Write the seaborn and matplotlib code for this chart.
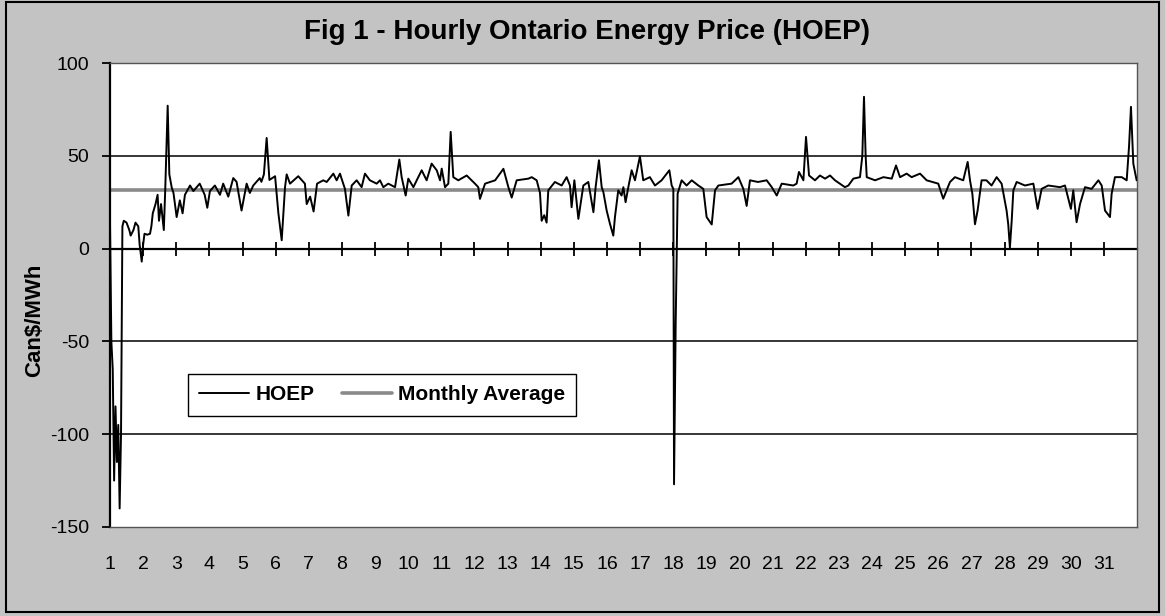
import pandas as pd
import seaborn as sns
import matplotlib.pyplot as plt
from matplotlib.patches import Rectangle

# hour of month (0 = 1st, 00:00) and HOEP price
hours = [
    0, 1, 2, 3, 4, 5, 6, 7, 8, 9, 10, 12, 13, 14, 15, 17, 18.5, 20.5, 21.5, 23,
    24, 25, 27, 29, 30, 31, 33, 34.5, 35.5, 37, 39, 40, 41.8, 43, 44.7, 46,
    48.3, 50.6, 52.6, 54.3, 58, 60.4, 65, 68.6, 70.5, 72.4, 76, 79.7, 82, 85.7,
    89.3, 91.7, 95.3, 99, 101.3, 103.8, 108.5, 109.7, 111.5, 113.5, 115.5, 119.6,
    122, 124.4, 126.8, 128, 130.4, 136.4, 141.2, 142.5, 145, 147.5, 150, 154.5,
    157, 161.8, 164.2, 166.6, 170.2, 172.7, 175.1, 178.7, 182.3, 184.7, 188.3,
    193.2, 195.6, 198, 201.6, 206.5, 209.6, 211.3, 214.2, 216.1, 219.8, 222.2,
    225.8, 229.4, 233, 236.7, 239.1, 240.3, 242.7, 245.1, 246.8, 248.7, 252.3,
    258.4, 264.4, 266.8, 268, 271.7, 279, 285, 288.6, 291, 294.6, 303.1, 305.5,
    309.1, 311.5, 312.7, 314.6, 316.3, 317.5, 322.3, 327.2, 330.8, 333.2, 334.4,
    336.4, 339.3, 342.9, 346.5, 350.2, 351.8, 354.2, 356.2, 357.4, 359.8, 362.2,
    364.6, 365.8, 368.2, 370.6, 371.9, 373.5, 375.5, 377.9, 380.3, 383.9, 386.3,
    391.1, 394.8, 399.6, 405.2, 406.9, 408.1, 408.6, 409.8, 411.2, 414.1, 417.7,
    421.4, 426.2, 429.8, 432.2, 435.9, 438.3, 440.7, 450.3, 455.2, 458.8, 461.2,
    463.6, 469.4, 475.7, 479.4, 483, 486.6, 495, 497.4, 499.1, 502.3, 504.2,
    506.4, 510.7, 514.3, 518, 521.6, 525.2, 532.4, 534.9, 538.5, 543.3, 545,
    546.2, 547.4, 548.2, 554.2, 560.3, 566.3, 569.4, 572.3, 577.1, 580.7, 586.8,
    591.6, 600, 603.6, 608.5, 612.1, 618.1, 621.3, 623, 624.7, 626.6, 628.5,
    631.4, 634.9, 638.6, 642.3, 645.9, 649.5, 650.7, 651.9, 653.2, 654.4, 656.8,
    662.8, 668.9, 672, 674.9, 679.7, 688.2, 691.8, 696.1, 697.8, 700.2, 702.7,
    706.3, 711.1, 716, 718.4, 720.8, 724.4, 725.6, 728, 732.9, 736.5, 738.2,
    739.6, 741.3, 743.7,
]
hoep = [
    15, -50, -65, -125, -85, -115, -95, -140, -100, 12, 15, 14, 12, 10, 7, 10, 14, 12, 2, -7,
    2, 8, 7.5, 8, 12, 19, 24, 29, 15, 24, 10, 31, 77, 40, 33, 30,
    17, 26, 19, 29, 34, 31, 35, 29, 22, 31, 34, 29, 35, 28,
    38, 36, 20.5, 35, 30, 34, 38, 36, 40, 59.6, 37, 39,
    19, 4.5, 33, 40, 35, 39, 35, 24, 28, 20, 35, 36.8,
    35.9, 40.4, 36.8, 40.4, 32.2, 17.8, 34, 36.8, 33.1, 40.4, 36.8,
    35, 36.8, 33.1, 35, 33.1, 48, 38.5, 28.6, 37.7, 33.1, 36.8,
    42.2, 36.8, 45.8, 42.2, 36.8, 43.1, 33.1, 35, 62.9, 38.5, 36.8,
    39.4, 35, 33.1, 26.8, 35, 36.8, 43, 33.1, 27.5, 36.8, 37.7, 38.5,
    36.8, 30, 15, 18, 14, 31.4, 35.9, 34, 38.5, 34, 22.3,
    36.8, 16, 34, 35.9, 19.6, 33.1, 47.6, 33.1, 30.5, 20.5, 13.3,
    7, 17, 31.4, 28.6, 33.1, 25, 33.1, 42.2, 36.8, 49.7, 36.8,
    38.5, 34, 36.8, 42.2, 34, 32.2, -127, -40, 29.6, 36.8, 34,
    36.8, 34, 32.2, 17, 13, 31.4, 34, 35, 38.5, 32.2, 23,
    36.8, 35.9, 36.8, 33.1, 28.6, 35, 34, 35, 41.3, 36.8, 60.2,
    39.4, 36.8, 39.4, 37.7, 39.4, 36.8, 33.1, 34, 37.7, 38.5, 50,
    81.8, 50, 38.5, 36.8, 38.5, 37.7, 44.8, 38.5, 40.4, 38.5, 40.4,
    36.8, 35, 26.9, 35.9, 38.5, 36.8, 46.7, 36.8, 29.6, 13.1, 20.5,
    36.8, 36.8, 34, 38.5, 35, 20.5, 13.1, 0.5, 15, 31.4, 35.9,
    34, 35, 21.4, 32.2, 34, 33.1, 34, 21.4, 31.4, 14.2, 24,
    33.1, 32.2, 36.8, 34, 20.5, 17, 29.6, 38.5, 38.5, 36.8, 55,
    76.4, 45.8, 36.8,
]
monthly_avg = 31.8

day_starts = list(range(0, 744, 24))
day_labels = [str(d) for d in range(1, 32)]
y_ticks = [100, 50, 0, -50, -100, -150]


def main():
    sns.set_style('ticks')
    plt.rcParams['font.family'] = ['Liberation Sans', 'DejaVu Sans']
    plt.rcParams['axes.unicode_minus'] = False
    plt.rcParams['text.color'] = 'black'
    plt.rcParams['axes.labelcolor'] = 'black'
    plt.rcParams['xtick.color'] = 'black'
    plt.rcParams['ytick.color'] = 'black'

    df = pd.DataFrame({'hour': hours, 'HOEP': hoep})

    fig = plt.figure(figsize=(11.65, 6.16), dpi=100, facecolor='#c3c3c3')
    ax = fig.add_axes([0.0944, 0.1445, 0.8816, 0.7532])
    ax.set_facecolor('white')

    sns.lineplot(data=df, x='hour', y='HOEP', ax=ax, color='black',
                 linewidth=1.4, label='HOEP', zorder=3)
    ax.axhline(monthly_avg, color='#8a8a8a', linewidth=2.6,
               label='Monthly Average', zorder=2)

    ax.set_xlim(0, 744)
    ax.set_ylim(-150, 100)
    ax.set_yticks(y_ticks)
    ax.set_xticks(day_starts)
    ax.set_xticklabels(day_labels)
    ax.tick_params(axis='x', length=0, labelsize=14, pad=21)
    ax.tick_params(axis='y', direction='out', length=6, width=1.3,
                   labelsize=14, pad=9)
    ax.set_xlabel('')
    ax.set_ylabel('Can\\$/MWh', fontsize=16, fontweight='bold')
    ax.yaxis.set_label_coords(-0.063, 0.446)

    ax.grid(False)
    for v in y_ticks:
        if v not in (0, -150):
            ax.axhline(v, color='black', linewidth=1.1, zorder=1)

    ax.spines['left'].set_color('black')
    ax.spines['left'].set_linewidth(1.6)
    for s in ('top', 'right', 'bottom'):
        ax.spines[s].set_color('#555555')
        ax.spines[s].set_linewidth(1.0)

    # category axis crossing at zero with day tick marks
    zero_pos = (0 - (-150)) / 250
    sec = ax.secondary_xaxis(zero_pos)
    sec.set_xticks(day_starts)
    sec.tick_params(axis='x', direction='inout', length=10, width=1.3,
                    labeltop=False, labelbottom=False, color='black')
    for sp in sec.spines.values():
        sp.set_linewidth(1.6)
        sp.set_color('black')

    leg = ax.legend(loc='center', bbox_to_anchor=(0.265, 0.285), ncol=2,
                    frameon=True, fancybox=False, edgecolor='black',
                    framealpha=1, handlelength=2.4, handletextpad=0.3,
                    columnspacing=1.3, borderpad=0.55,
                    prop={'weight': 'bold', 'size': 15})
    leg.get_frame().set_linewidth(1.0)

    fig.text(0.504, 0.948, 'Fig 1 - Hourly Ontario Energy Price (HOEP)',
             ha='center', va='center', fontsize=20, fontweight='bold')

    fig.patches.append(Rectangle((0.005, 0.006), 0.99, 0.99,
                                 transform=fig.transFigure, fill=False,
                                 edgecolor='black', linewidth=1.5))

    fig.savefig('out.png', dpi=100, facecolor=fig.get_facecolor())


if __name__ == '__main__':
    main()
